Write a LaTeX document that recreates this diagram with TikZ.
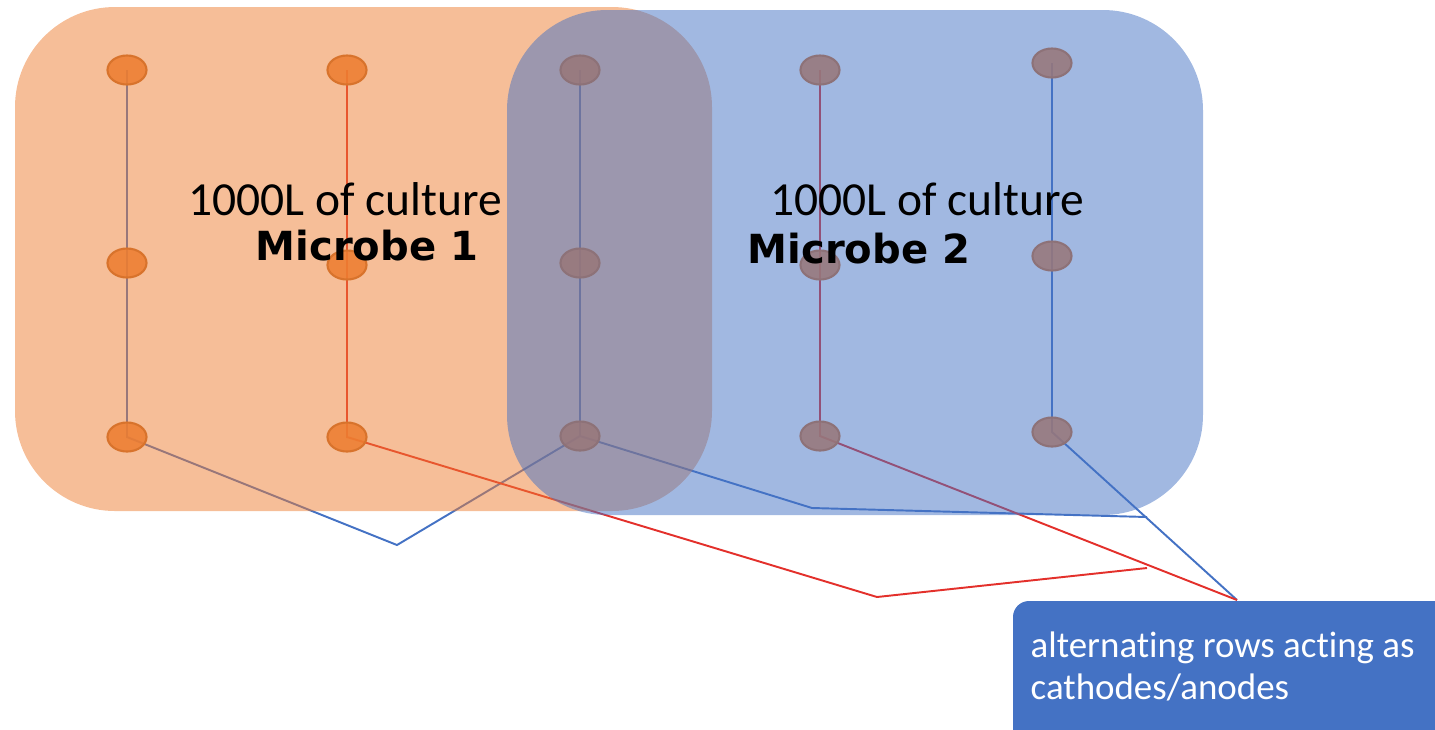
\documentclass[tikz,border=0pt]{standalone}
\usepackage{fontspec}
\setmainfont{Carlito}[Ligatures=NoCommon]
\newfontfamily\labelfont{DejaVu Sans}
\usetikzlibrary{shapes.geometric}

\definecolor{tankorange}{HTML}{ED7D31}
\definecolor{tankblue}{HTML}{4472C4}
\definecolor{wirered}{HTML}{E3302B}
\definecolor{dotrim}{HTML}{D8732C}

\tikzset{
  electrode/.style={ellipse,draw=dotrim,line width=0.6pt,fill=tankorange,fill opacity=0.88,
    minimum width=0.39cm,minimum height=0.29cm,inner sep=0pt},
  wire/.style={line width=0.55pt},
  tank/.style={fill opacity=0.5,rounded corners=1cm},
  culture/.style={anchor=base west,inner sep=0pt,font=\fontsize{13.5}{16}\selectfont},
  microbe/.style={anchor=base west,inner sep=0pt,font=\labelfont\bfseries\fontsize{11.4}{13}\selectfont},
}

\begin{document}
\begin{tikzpicture}[x=0.01cm,y=-0.01cm]
\useasboundingbox (0,0) rectangle (1435,729);
\clip (0,0) rectangle (1435,729);

% electrode positions, column by column
\coordinate (c1t) at (127,70);
\coordinate (c1m) at (127,263);
\coordinate (c1b) at (127,437);
\coordinate (c2t) at (347,70);
\coordinate (c2m) at (347,265);
\coordinate (c2b) at (347,437);
\coordinate (c3t) at (580,70);
\coordinate (c3m) at (580,263);
\coordinate (c3b) at (580,436);
\coordinate (c4t) at (820,70);
\coordinate (c4m) at (820,265);
\coordinate (c4b) at (820,436);
\coordinate (c5t) at (1052,63);
\coordinate (c5m) at (1052,256);
\coordinate (c5b) at (1052,432);

% bends of the wiring
\coordinate (vjoin) at (397,545);
\coordinate (bbend) at (812,508);
\coordinate (bmeet) at (1147,517);
\coordinate (rbend) at (877,597);
\coordinate (rmeet) at (1147,568);
\coordinate (tip) at (1237,600);

% wires sit under the tanks
\draw[wire,tankblue] (c1t) -- (c1b) -- (vjoin) -- (c3b);
\draw[wire,tankblue] (c3t) -- (c3b) -- (bbend) -- (bmeet);
\draw[wire,tankblue] (c5t) -- (c5b) -- (tip);
\draw[wire,wirered] (c2t) -- (c2b) -- (rbend) -- (rmeet);
\draw[wire,wirered] (c4t) -- (c4b) -- (tip);

% first tank
\fill[tank,tankorange] (15,7) rectangle (712,511);

\node[electrode] (e1t) at (c1t) {};
\node[electrode] (e1m) at (c1m) {};
\node[electrode] (e1b) at (c1b) {};
\node[electrode] (e2t) at (c2t) {};
\node[electrode] (e2m) at (c2m) {};
\node[electrode] (e2b) at (c2b) {};
\node[electrode] (e3t) at (c3t) {};
\node[electrode] (e3m) at (c3m) {};
\node[electrode] (e3b) at (c3b) {};
\node[electrode] (e4t) at (c4t) {};
\node[electrode] (e4m) at (c4m) {};
\node[electrode] (e4b) at (c4b) {};
\node[electrode] (e5t) at (c5t) {};
\node[electrode] (e5m) at (c5m) {};
\node[electrode] (e5b) at (c5b) {};

% second tank
\fill[tank,tankblue] (507,10) rectangle (1203,515);

\node[culture] (vol1) at (188,215) {1000L of culture};
\node[microbe] (mic1) at (255,260) {Microbe 1};
\node[culture] (vol2) at (770,215) {1000L of culture};
\node[microbe] (mic2) at (747,263) {Microbe 2};

% note box
\fill[tankblue,rounded corners=0.16cm] (1013,601) rectangle (1460,760);
\node[anchor=north west,inner sep=0pt,text=white,align=left,
  font=\fontsize{10.5}{11.95}\selectfont] (note) at (1030,631)
  {alternating rows acting as\\cathodes/anodes};

\end{tikzpicture}
\end{document}
